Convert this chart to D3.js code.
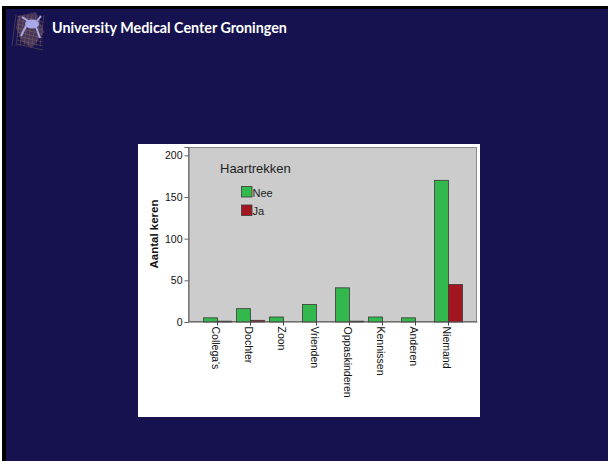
<!DOCTYPE html>
<html><head><meta charset="utf-8">
<script src="https://cdn.jsdelivr.net/npm/d3@7"></script>
<style>body{margin:0;background:#fff}svg{display:block}</style>
</head><body>
<script>
const categories = ["Collega's","Dochter","Zoon","Vrienden","Oppaskinderen","Kennissen","Anderen","Niemand"];
const series = ["Nee","Ja"];
const neeValues = [5,16,6,21,41,6,5,170];
const jaValues = [1,2,0,0,1,0,0,45];
const yTicks = [0,50,100,150,200];
const legendTitle = "Haartrekken";
const yLabel = "Aantal keren";
const headerTitle = "University Medical Center Groningen";

const colors = {Nee:"#33b84d", Ja:"#a3161f"};
const W = 609, H = 461;
const svg = d3.select("body").append("svg").attr("width",W).attr("height",H);

// slide background
svg.append("rect").attr("width",W).attr("height",H).attr("fill","#fff");
svg.append("rect").attr("x",2).attr("y",6).attr("width",606).attr("height",455).attr("fill","#000");
svg.append("rect").attr("x",6).attr("y",9).attr("width",602).attr("height",452).attr("fill","#15124f");

// logo
const logo = svg.append("g").attr("transform","translate(30,30)");
logo.append("path").attr("d","M-12,-14 L6,-18 L14,2 L2,18 L-8,12 L-14,-2 Z").attr("fill","#4a3a5e").attr("opacity",0.9);
for (let i=-14;i<=14;i+=4){
  logo.append("line").attr("x1",-13).attr("y1",i).attr("x2",13).attr("y2",i+6).attr("stroke","#8a6a5a").attr("stroke-width",0.6).attr("opacity",0.7);
  logo.append("line").attr("x1",i).attr("y1",-15).attr("x2",i-4).attr("y2",16).attr("stroke","#8a6a5a").attr("stroke-width",0.6).attr("opacity",0.7);
}
logo.append("ellipse").attr("cx",2).attr("cy",-6).attr("rx",7).attr("ry",4.5).attr("fill","#a7a8e6");
logo.append("path").attr("d","M-4,-4 L-9,6 M6,-3 L10,8 M-2,-9 L-8,-13 M7,-9 L11,-14").attr("stroke","#a7a8e6").attr("stroke-width",2);

svg.append("text").attr("x",52).attr("y",33).attr("fill","#fff")
  .attr("font-family","Lato, 'Open Sans', sans-serif").attr("font-weight","bold").attr("font-size",14.3)
  .text(headerTitle);

// chart panel
svg.append("rect").attr("x",138).attr("y",144).attr("width",342).attr("height",273).attr("fill","#fff");

const x = d3.scaleBand().domain(categories).range([189,477]).paddingInner(5/33).paddingOuter(0.439);
const x1 = d3.scaleBand().domain(series).range([0,x.bandwidth()]);
const y = d3.scaleLinear().domain([0,210]).range([322,147]);

svg.append("rect").attr("x",188.5).attr("y",147.5).attr("width",288).attr("height",174)
  .attr("fill","#cccccc").attr("stroke","#8a8a8a").attr("stroke-width",1);

const data = categories.map((c,i)=>({cat:c, values:[{s:"Nee",v:neeValues[i]},{s:"Ja",v:jaValues[i]}]}));
const g = svg.append("g");
data.forEach(d=>{
  d.values.forEach(e=>{
    if (e.v<=0) return;
    g.append("rect")
      .attr("x", x(d.cat)+x1(e.s)).attr("y", y(e.v))
      .attr("width", x1.bandwidth()).attr("height", y(0)-y(e.v))
      .attr("fill", colors[e.s]).attr("stroke","#3a3a3a").attr("stroke-width",0.8);
  });
});

// y axis
const yAxis = svg.append("g").attr("transform","translate(188.5,0)")
  .call(d3.axisLeft(y).tickValues(yTicks).tickSize(4).tickPadding(2));
yAxis.select(".domain").attr("stroke","#666");
yAxis.selectAll(".tick line").attr("stroke","#666");
yAxis.selectAll("text").attr("font-family","Arial, 'Liberation Sans', sans-serif").attr("font-size",10.5).attr("fill","#111");

// x axis
const xAxis = svg.append("g").attr("transform","translate(0,321.5)")
  .call(d3.axisBottom(x).tickSize(4).tickSizeOuter(0));
xAxis.select(".domain").attr("stroke","#555");
xAxis.selectAll(".tick line").attr("stroke","#444");
xAxis.selectAll("text")
  .attr("font-family","Arial, 'Liberation Sans', sans-serif").attr("font-size",10.5).attr("fill","#111")
  .attr("text-anchor","start")
  .attr("transform","translate(-2,5) rotate(90)")
  .attr("x",0).attr("y",0).attr("dy","0.35em");

// y label
svg.append("text").attr("transform","translate(158,234) rotate(-90)")
  .attr("text-anchor","middle").attr("font-family","Arial, 'Liberation Sans', sans-serif")
  .attr("font-weight","bold").attr("font-size",11.5).attr("fill","#111").text(yLabel);

// legend
svg.append("text").attr("x",220).attr("y",173).attr("font-family","Arial, 'Liberation Sans', sans-serif")
  .attr("font-size",13).attr("fill","#222").text(legendTitle);
series.forEach((s,i)=>{
  svg.append("rect").attr("x",241.5).attr("y",186.5+i*18.5).attr("width",10.5).attr("height",10.5)
    .attr("fill",colors[s]).attr("stroke","#3a3a3a").attr("stroke-width",0.8);
  svg.append("text").attr("x",252.5).attr("y",196.5+i*18.5).attr("font-family","Arial, 'Liberation Sans', sans-serif")
    .attr("font-size",11).attr("fill","#222").text(s);
});
</script>
</body></html>
